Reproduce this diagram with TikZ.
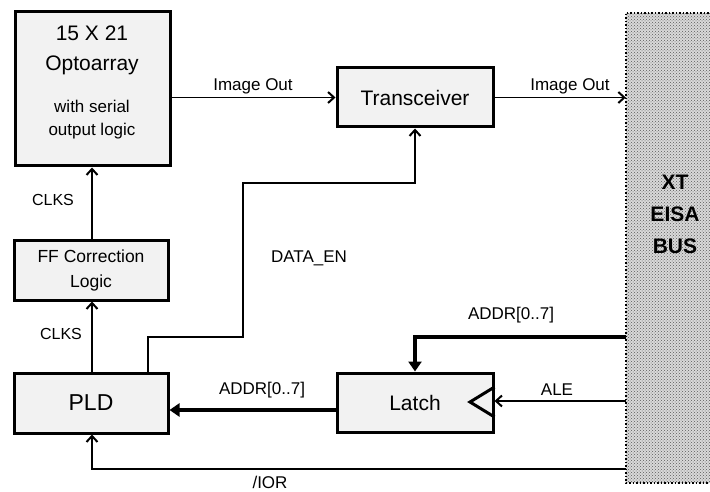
\documentclass[tikz,border=0pt]{standalone}
\usepackage{fontspec}
\setmainfont{Liberation Sans}
\usetikzlibrary{arrows.meta,patterns}
\begin{document}
\begin{tikzpicture}[x=1pt,y=-1pt,
  blk/.style={draw,line width=3pt,fill=gray!10,inner sep=0pt,align=center},
  lbl/.style={inner sep=0pt,font=\fontsize{17}{20}\selectfont},
  arr/.style={line width=1.5pt,-{Straight Barb[length=6pt,width=11pt,line width=2pt]}},
  busarr/.style={line width=4pt,-{Triangle[length=10pt,width=13pt]}},
  plain/.style={line width=1.5pt}]
\useasboundingbox (0,0) rectangle (710,492);
% bus
\node[minimum width=86pt,minimum height=470pt,inner sep=0pt,fill=gray!30] (bus) at (669,248) {};
\fill[pattern=crosshatch dots,pattern color=black!65] (bus.north west) rectangle (bus.south east);
\draw[line width=1.5pt,dotted] (bus.north east) -- (bus.north west) -- (bus.south west) -- (bus.south east);
\node[inner sep=0pt,align=center,font=\fontsize{21}{32}\selectfont\bfseries] (bustxt) at (675,214) {XT\\EISA\\BUS};
% blocks
\node[blk,minimum width=155pt,minimum height=154pt] (opto) at (92.5,89) {};
\node[lbl,font=\fontsize{21}{24}\selectfont] (o1) at (92,33) {15 X 21};
\node[lbl,font=\fontsize{21}{24}\selectfont] (o2) at (92,65) {Optoarray};
\node[lbl] (o3) at (92,106) {with serial};
\node[lbl] (o4) at (92,131) {output logic};
\node[blk,minimum width=154pt,minimum height=60pt,font=\fontsize{17.5}{25}\selectfont] (ff) at (91,270) {FF Correction\\Logic};
\node[blk,minimum width=154pt,minimum height=60pt,font=\fontsize{23}{26}\selectfont] (pld) at (91,403) {PLD};
\node[blk,minimum width=156pt,minimum height=59pt,font=\fontsize{21}{24}\selectfont] (trans) at (415,97.5) {Transceiver};
\node[blk,minimum width=156pt,minimum height=59pt,font=\fontsize{21}{24}\selectfont] (latch) at (415,402.5) {Latch};
\draw[line width=3pt,line join=miter] (latch.east |- 0,387) -- (470,402) -- (latch.east |- 0,417);
% connectors
\draw[arr] (opto.east |- trans.west) -- (trans.west);
\draw[arr] (trans.east) -- (trans.east -| bus.west);
\draw[arr] (pld.north -| 148,0) |- (243,337) |- (415,183) -- (trans.south -| 415,0);
\draw[arr] (ff.north -| 92,0) -- (opto.south -| 92,0);
\draw[arr] (pld.north -| 92,0) -- (ff.south -| 92,0);
\draw[busarr] (latch.west |- 0,410) -- (pld.east |- 0,410);
\draw[busarr] (bus.west |- 0,337) -| (latch.north -| 415,0);
\draw[arr] (bus.west |- 0,401) -- (latch.east |- 0,401);
\draw[arr] (bus.west |- 0,469) -| (pld.south -| 92,0);
% labels
\node[lbl] (l1) at (253,86) {Image Out};
\node[lbl] (l2) at (570,86) {Image Out};
\node[lbl,font=\fontsize{16}{19}\selectfont] (l3) at (53,200) {CLKS};
\node[lbl,font=\fontsize{16}{19}\selectfont] (l4) at (61,334) {CLKS};
\node[lbl] (l5) at (309,258) {DATA\_EN};
\node[lbl] (l6) at (262,390) {ADDR[0..7]};
\node[lbl] (l7) at (511,315) {ADDR[0..7]};
\node[lbl] (l8) at (557,390) {ALE};
\node[lbl] (l9) at (270,482) {/IOR};
\end{tikzpicture}
\end{document}
